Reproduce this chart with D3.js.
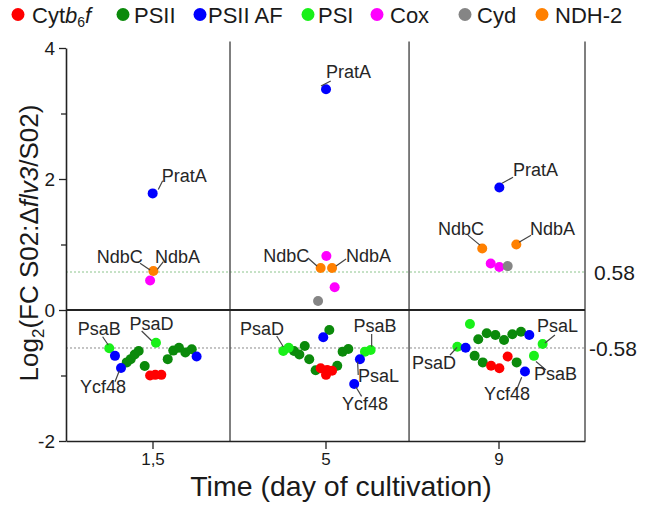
<!DOCTYPE html>
<html><head><meta charset="utf-8">
<script src="https://cdn.jsdelivr.net/npm/d3@7/dist/d3.min.js"></script>
<style>
html,body{margin:0;padding:0;background:#fff;}
svg text{font-family:"Liberation Sans",Arial,sans-serif;}
</style></head>
<body><svg id="chart" width="646" height="525"></svg>
<script>
// ---- data (x = position along the time axis in panel units, y = log2 FC) ----
const categories = ["1,5", "5", "9"];
const categoryCenters = [0.5, 1.5, 2.5];
const panelEdges = [0.948, 1.983];
const yTicksMajor = [-2, 0, 2, 4];
const yTicksMinor = [-1, 1, 3];
const thresholds = [0.58, -0.58];

const cytb6f = [[0.486,-1.00],[0.516,-0.99],[0.551,-0.99],[1.472,-0.89],[1.503,-0.99],[1.510,-0.916],[1.538,-0.927],[2.457,-0.85],[2.505,-0.89],[2.553,-0.71]];
const psii = [[0.351,-0.80],[0.374,-0.75],[0.397,-0.68],[0.420,-0.626],[0.455,-0.855],[0.588,-0.75],[0.620,-0.62],[0.653,-0.575],[0.690,-0.65],[0.727,-0.60],
  [1.318,-0.626],[1.349,-0.68],[1.380,-0.55],[1.406,-0.753],[1.443,-0.92],[1.568,-0.85],[1.522,-0.305],[1.599,-0.636],[1.632,-0.595],
  [2.362,-0.70],[2.409,-0.80],[2.605,-0.80],[2.383,-0.447],[2.432,-0.356],[2.482,-0.382],[2.532,-0.458],[2.580,-0.371],[2.630,-0.331]];
const psiiAF = [[0.501,1.78],[0.283,-0.70],[0.318,-0.885],[0.755,-0.71],[1.503,3.37],[1.487,-0.417],[1.699,-0.753],[1.666,-1.13],[2.505,1.87],[2.310,-0.575],[2.653,-0.94],[2.678,-0.382]];
const psi = [[0.250,-0.585],[0.520,-0.50],[1.256,-0.626],[1.287,-0.575],[1.728,-0.636],[1.761,-0.61],[2.335,-0.214],[2.262,-0.56],[2.705,-0.70],[2.755,-0.52]];
const cox = [[0.486,0.45],[1.505,0.824],[1.553,0.347],[2.455,0.71],[2.505,0.656]];
const cyd = [[1.457,0.137],[2.553,0.67]];
const ndh2 = [[0.505,0.595],[1.472,0.641],[1.538,0.641],[2.406,0.94],[2.603,1.0]];

const seriesNames = ["Cytb6f","PSII","PSII AF","PSI","Cox","Cyd","NDH-2"];
const seriesColors = ["#ff0000","#0b8a0b","#0000ff","#19f019","#ff00ff","#858585","#ff8000"];
const seriesData = [cytb6f, psii, psiiAF, psi, cox, cyd, ndh2];
const drawOrder = [1, 3, 0, 2, 4, 5, 6];

// point labels: series index, point index, text offset, anchor, leader line (px offsets from the point)
const labels = [
  {t:"PratA", s:2, i:0, tx:9, ty:-11, a:"start", l:[5.6,-4,10,-12.6]},
  {t:"NdbC", s:6, i:0, tx:-10.6, ty:-7.7, a:"end", l:[-13.3,-7.7,-3.3,-1]},
  {t:"NdbA", s:6, i:0, tx:1.7, ty:-7.7, a:"start", l:[10,-9.3,4,-1.7]},
  {t:"PratA", s:2, i:4, tx:0, ty:-11, a:"start", l:[-5,-3.3,4.7,-8.3]},
  {t:"NdbC", s:6, i:1, tx:-11.4, ty:-6, a:"end", l:[-12.7,-10,-3.7,-2]},
  {t:"NdbA", s:6, i:2, tx:14, ty:-6, a:"start", l:[14,-9,4,-2]},
  {t:"PratA", s:2, i:8, tx:13.7, ty:-11.3, a:"start", l:[2.7,-4.3,13.7,-10.3]},
  {t:"NdbC", s:6, i:3, tx:1.7, ty:-13.3, a:"end", l:[-14.3,-13.3,-2.3,-3.3]},
  {t:"NdbA", s:6, i:4, tx:13.7, ty:-9.3, a:"start", l:[14.7,-9.3,2.7,-2.3]},
  {t:"PsaB", s:3, i:0, tx:-10.1, ty:-13.3, a:"middle", l:[-6.6,-11.6,-1,-3.3]},
  {t:"PsaD", s:3, i:1, tx:-4.5, ty:-12.7, a:"middle", l:[-14.3,-11.7,-4.3,-2]},
  {t:"Ycf48", s:2, i:2, tx:-18, ty:25, a:"middle", l:[-6,13.7,-1.7,2.7]},
  {t:"PsaD", s:3, i:2, tx:-21.3, ty:-16, a:"middle", l:[-6.6,-15,0,-4.3]},
  {t:"PsaB", s:3, i:5, tx:4.3, ty:-18, a:"middle", l:[1,-16,1,-3.3]},
  {t:"PsaL", s:2, i:6, tx:-2, ty:22.7, a:"start", l:[-2.3,2.4,-1.7,15.7]},
  {t:"Ycf48", s:2, i:7, tx:10.7, ty:25.7, a:"middle", l:[1.7,3,7.4,12.4]},
  {t:"PsaD", s:3, i:7, tx:-1.3, ty:22.3, a:"end", l:[-7.3,8.3,-0.3,0.6]},
  {t:"PsaL", s:3, i:9, tx:-5.7, ty:-12.3, a:"start", l:[12.3,-9,2.3,-1]},
  {t:"PsaB", s:3, i:8, tx:0, ty:24, a:"start", l:[2,5.7,12,14]},
  {t:"Ycf48", s:2, i:10, tx:-18, ty:28.3, a:"middle", l:[-3.3,5.6,-7.7,16.6]}
];

// ---- layout ----
const svg = d3.select("#chart");
const mLeft = 66, mRight = 585, mTop = 48, mBottom = 441;
const x = d3.scaleLinear().domain([0, 3]).range([mLeft, mRight]);
const y = d3.scaleLinear().domain([-2, 4]).range([mBottom, mTop]);
const textCol = "#1a1a1a";

// legend
const legendX = [[18,32],[123,134],[200,208],[308,318],[377,390],[465,477],[542,555]];
const leg = svg.append("g");
seriesNames.forEach((n, k) => {
  leg.append("circle").attr("cx", legendX[k][0]).attr("cy", 14.5).attr("r", 6.5).attr("fill", seriesColors[k]);
  const t = leg.append("text").attr("x", legendX[k][1]).attr("y", 22.5).attr("font-size", 22).attr("fill", textCol);
  if (n === "Cytb6f") {
    t.append("tspan").text("Cyt");
    t.append("tspan").attr("font-style", "italic").text("b");
    t.append("tspan").attr("font-size", 14).attr("dy", 4).text("6");
    t.append("tspan").attr("font-style", "italic").attr("dy", -4).text("f");
  } else t.text(n);
});

// threshold lines
svg.append("line").attr("x1", mLeft).attr("x2", mRight).attr("y1", y(thresholds[0])).attr("y2", y(thresholds[0]))
  .attr("stroke", "#8cc48c").attr("stroke-width", 1).attr("stroke-dasharray", "2,2");
svg.append("line").attr("x1", mLeft).attr("x2", mRight).attr("y1", y(thresholds[1])).attr("y2", y(thresholds[1]))
  .attr("stroke", "#8a8a8a").attr("stroke-width", 1).attr("stroke-dasharray", "2,2");
svg.append("text").attr("x", 594).attr("y", y(thresholds[0]) + 8).attr("font-size", 21).attr("fill", textCol).text("0.58");
svg.append("text").attr("x", 589).attr("y", y(thresholds[1]) + 8).attr("font-size", 21).attr("fill", textCol).text("-0.58");

// panel dividers and right border
panelEdges.concat([3]).forEach(e => {
  svg.append("line").attr("x1", x(e)).attr("x2", x(e)).attr("y1", y(4.1)).attr("y2", mBottom)
    .attr("stroke", "#555").attr("stroke-width", 1.5);
});
// zero line
svg.append("line").attr("x1", mLeft).attr("x2", mRight).attr("y1", y(0)).attr("y2", y(0))
  .attr("stroke", "#222").attr("stroke-width", 1.8);

// y axis
const yAxis = svg.append("g").attr("transform", `translate(${mLeft},0)`)
  .call(d3.axisLeft(y).tickValues(yTicksMajor).tickSize(7).tickSizeOuter(0).tickFormat(d => String(d)));
svg.append("g").attr("transform", `translate(${mLeft},0)`)
  .call(d3.axisLeft(y).tickValues(yTicksMinor).tickSize(5).tickFormat("")).select(".domain").remove();
// x axis
const xAxis = svg.append("g").attr("transform", `translate(0,${mBottom})`)
  .call(d3.axisBottom(x).tickValues(categoryCenters).tickSize(8).tickSizeOuter(0).tickFormat((d, i) => categories[i]));
svg.selectAll(".domain").attr("stroke", "#222").attr("stroke-width", 1.6);
svg.selectAll(".tick line").attr("stroke", "#222").attr("stroke-width", 1.3);
yAxis.selectAll(".tick text").attr("font-size", 19).attr("fill", textCol).attr("x", -11).attr("dy", "0.35em");
xAxis.selectAll(".tick text").attr("font-size", 17).attr("fill", textCol).attr("y", 12);
svg.selectAll(".domain").raise();

// axis titles
svg.append("text").attr("x", 341).attr("y", 496).attr("text-anchor", "middle").attr("font-size", 28.5).attr("fill", textCol)
  .text("Time (day of cultivation)");
const yt = svg.append("text").attr("transform", "translate(38,243) rotate(-90)").attr("text-anchor", "middle")
  .attr("font-size", 26).attr("fill", textCol);
yt.append("tspan").text("Log");
yt.append("tspan").attr("font-size", 17).attr("dy", 6).text("2");
yt.append("tspan").attr("dy", -6).text("(FC S02:Δ");
yt.append("tspan").attr("font-style", "italic").text("flv3");
yt.append("tspan").text("/S02)");

// leaders
const lab = svg.append("g");
labels.forEach(d => {
  const p = seriesData[d.s][d.i];
  const px = x(p[0]), py = y(p[1]);
  lab.append("line").attr("x1", px + d.l[0]).attr("y1", py + d.l[1]).attr("x2", px + d.l[2]).attr("y2", py + d.l[3])
    .attr("stroke", "#444").attr("stroke-width", 1.2);
});

// points
drawOrder.forEach(k => {
  svg.append("g").selectAll("circle").data(seriesData[k]).join("circle")
    .attr("cx", d => x(d[0])).attr("cy", d => y(d[1])).attr("r", 5).attr("fill", seriesColors[k]);
});

// label texts
labels.forEach(d => {
  const p = seriesData[d.s][d.i];
  lab.append("text").attr("x", x(p[0]) + d.tx).attr("y", y(p[1]) + d.ty).attr("text-anchor", d.a)
    .attr("font-size", 18).attr("fill", "#262626").text(d.t);
});
lab.raise();
</script></body></html>
